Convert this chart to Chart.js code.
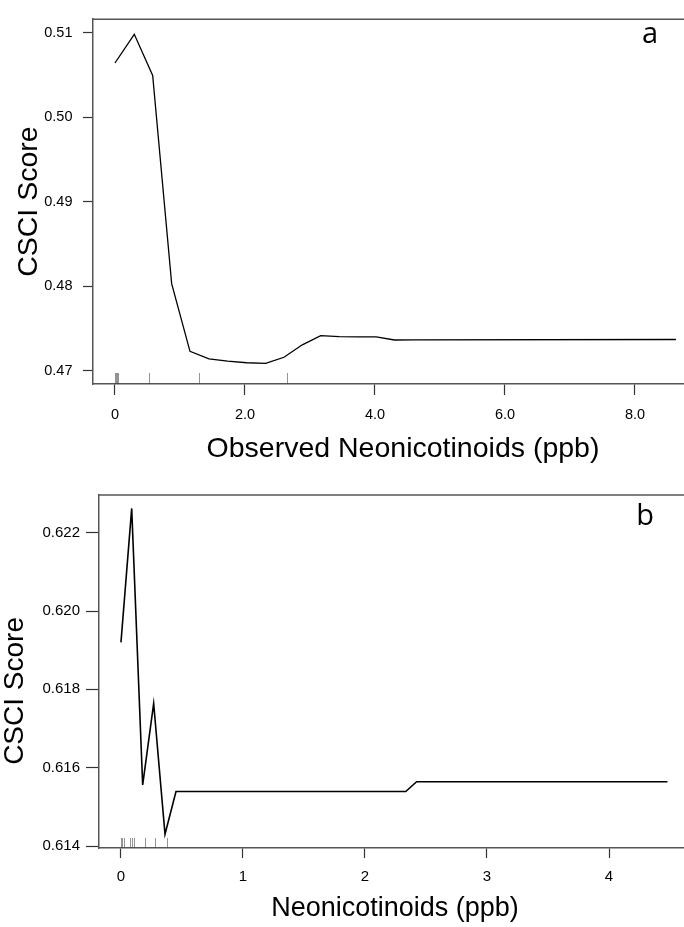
<!DOCTYPE html>
<html>
<head>
<meta charset="utf-8">
<script src="https://cdn.jsdelivr.net/npm/chart.js@4.4.1/dist/chart.umd.min.js"></script>
<style>
html, body { margin: 0; padding: 0; background: #fff; overflow: hidden; }
#wrap { position: relative; width: 684px; height: 927px; overflow: hidden; }
#chartA { position: absolute; left: 0; top: 0; }
#chartB { position: absolute; left: 0; top: 460px; }
</style>
</head>
<body>
<div id="wrap">
  <canvas id="chartA" width="730" height="470"></canvas>
  <canvas id="chartB" width="730" height="467"></canvas>
</div>
<script>
// --- panel a: observed neonicotinoids ---
const neonicA = [0, 0.297, 0.58, 0.872, 1.154, 1.446, 1.733, 2.026, 2.318, 2.60, 2.882, 3.165, 3.45, 3.74, 4.02, 4.30, 4.60, 8.63];
const csciA   = [0.50641, 0.5098, 0.50494, 0.48032, 0.47232, 0.47144, 0.47116, 0.47097, 0.4709, 0.47162, 0.47309, 0.47417, 0.47405, 0.47404, 0.47403, 0.47366, 0.47368, 0.47372];
const rugA = [0, 0.01, 0.03, 0.05, 0.53, 1.29, 2.65];
const xTicksA = [0, 2, 4, 6, 8];
const xTickLabelsA = ['0', '2.0', '4.0', '6.0', '8.0'];
const yTicksA = [0.47, 0.48, 0.49, 0.50, 0.51];
const yTickLabelsA = ['0.47', '0.48', '0.49', '0.50', '0.51'];

// --- panel b: neonicotinoids ---
const neonicB = [0, 0.088, 0.178, 0.268, 0.361, 0.451, 2.334, 2.423, 4.479];
const csciB   = [0.6192, 0.62262, 0.61556, 0.61764, 0.6143, 0.61539, 0.61539, 0.61564, 0.61564];
const rugB = [0, 0.01, 0.025, 0.07, 0.09, 0.105, 0.2, 0.275, 0.38];
const xTicksB = [0, 1, 2, 3, 4];
const xTickLabelsB = ['0', '1', '2', '3', '4'];
const yTicksB = [0.614, 0.616, 0.618, 0.620, 0.622];
const yTickLabelsB = ['0.614', '0.616', '0.618', '0.620', '0.622'];

const FONT = "'Liberation Sans', Arial, sans-serif";

// box top/right edge, rug marks and panel letter
const framePlugin = {
    id: 'frame',
    afterDraw(chart, args, opts) {
        const { ctx, chartArea: a } = chart;
        const x = chart.scales.x;
        ctx.save();
        ctx.strokeStyle = '#555';
        ctx.lineWidth = 1.5;
        ctx.beginPath();
        ctx.moveTo(a.left, a.top);
        ctx.lineTo(a.right, a.top);
        ctx.lineTo(a.right, a.bottom);
        ctx.stroke();

        ctx.strokeStyle = 'rgba(60,60,60,0.55)';
        ctx.lineWidth = 1;
        opts.rug.forEach(v => {
            const px = Math.round(x.getPixelForValue(v)) + 0.5;
            ctx.beginPath();
            ctx.moveTo(px, a.bottom);
            ctx.lineTo(px, a.bottom - opts.rugLength);
            ctx.stroke();
        });

        ctx.fillStyle = '#000';
        ctx.font = "29px 'Open Sans', sans-serif";
        ctx.textAlign = 'center';
        ctx.textBaseline = 'alphabetic';
        ctx.fillText(opts.letter, opts.letterX, opts.letterY);
        ctx.restore();
    }
};

function makePanel(id, p) {
    const ctx = document.getElementById(id).getContext('2d');
    return new Chart(ctx, {
        type: 'line',
        data: {
            datasets: [{
                data: p.xs.map((v, i) => ({ x: v, y: p.ys[i] })),
                borderColor: '#000',
                borderWidth: p.lineWidth,
                pointRadius: 0,
                tension: 0,
                fill: false
            }]
        },
        options: {
            responsive: false,
            maintainAspectRatio: false,
            animation: false,
            layout: { padding: p.padding },
            plugins: {
                legend: { display: false },
                tooltip: { enabled: false },
                frame: p.frame
            },
            scales: {
                x: {
                    type: 'linear',
                    min: p.xMin, max: p.xMax,
                    afterBuildTicks: s => { s.ticks = p.xTicks.map(v => ({ value: v })); },
                    afterFit: s => { s.height = p.xAxisHeight; },
                    grid: { drawOnChartArea: false, drawTicks: true, tickLength: p.xTickLen, tickColor: '#333', tickWidth: 1.2 },
                    border: { display: true, color: '#555', width: 1.5 },
                    ticks: {
                        autoSkip: false, maxRotation: 0, padding: p.xTickPad, color: '#000',
                        font: { family: FONT, size: p.tickSize },
                        callback: (v, i) => p.xTickLabels[i]
                    },
                    title: {
                        display: true, text: p.xTitle, color: '#000',
                        font: { family: FONT, size: p.xTitleSize, lineHeight: 1 },
                        padding: { top: 0, bottom: p.xTitlePad }
                    }
                },
                y: {
                    type: 'linear',
                    min: p.yMin, max: p.yMax,
                    afterBuildTicks: s => { s.ticks = p.yTicks.map(v => ({ value: v })); },
                    afterFit: s => { s.width = p.yAxisWidth; },
                    grid: { drawOnChartArea: false, drawTicks: true, tickLength: p.yTickLen, tickColor: '#333', tickWidth: 1.2 },
                    border: { display: true, color: '#555', width: 1.5 },
                    ticks: {
                        autoSkip: false, padding: p.yTickPad, color: '#000',
                        font: { family: FONT, size: p.tickSize },
                        callback: (v, i) => p.yTickLabels[i]
                    },
                    title: {
                        display: true, text: p.yTitle, color: '#000',
                        font: { family: FONT, size: p.yTitleSize, lineHeight: 1 },
                        padding: { top: p.yTitlePad, bottom: 0 }
                    }
                }
            }
        },
        plugins: [framePlugin]
    });
}

makePanel('chartA', {
    xs: neonicA, ys: csciA, lineWidth: 1.3,
    padding: { left: 0, top: 12, right: 17, bottom: 0 },
    xMin: -0.338, xMax: 9.2, yMin: 0.468458, yMax: 0.511588,
    xTicks: xTicksA, xTickLabels: xTickLabelsA,
    yTicks: yTicksA, yTickLabels: yTickLabelsA,
    xAxisHeight: 86, yAxisWidth: 93,
    xTickLen: 11, xTickPad: 11.3, yTickLen: 10, yTickPad: 10.5,
    tickSize: 14.5,
    xTitle: 'Observed Neonicotinoids (ppb)', xTitleSize: 28.5, xTitlePad: 6.5,
    yTitle: 'CSCI Score', yTitleSize: 28.5, yTitlePad: 14.5,
    frame: { rug: rugA, rugLength: 11, letter: 'a', letterX: 650, letterY: 43 }
});

makePanel('chartB', {
    xs: neonicB, ys: csciB, lineWidth: 1.6,
    padding: { left: 0, top: 35, right: 39, bottom: 0 },
    xMin: -0.18, xMax: 4.672, yMin: 0.613949, yMax: 0.622963,
    xTicks: xTicksB, xTickLabels: xTickLabelsB,
    yTicks: yTicksB, yTickLabels: yTickLabelsB,
    xAxisHeight: 79, yAxisWidth: 99,
    xTickLen: 10, xTickPad: 10, yTickLen: 13, yTickPad: 6,
    tickSize: 15,
    xTitle: 'Neonicotinoids (ppb)', xTitleSize: 27, xTitlePad: 4.5,
    yTitle: 'CSCI Score\u00a0\u00a0\u00a0\u00a0\u00a0', yTitleSize: 28, yTitlePad: 1.5,
    frame: { rug: rugB, rugLength: 10, letter: 'b', letterX: 645, letterY: 65 }
});
</script>
</body>
</html>
